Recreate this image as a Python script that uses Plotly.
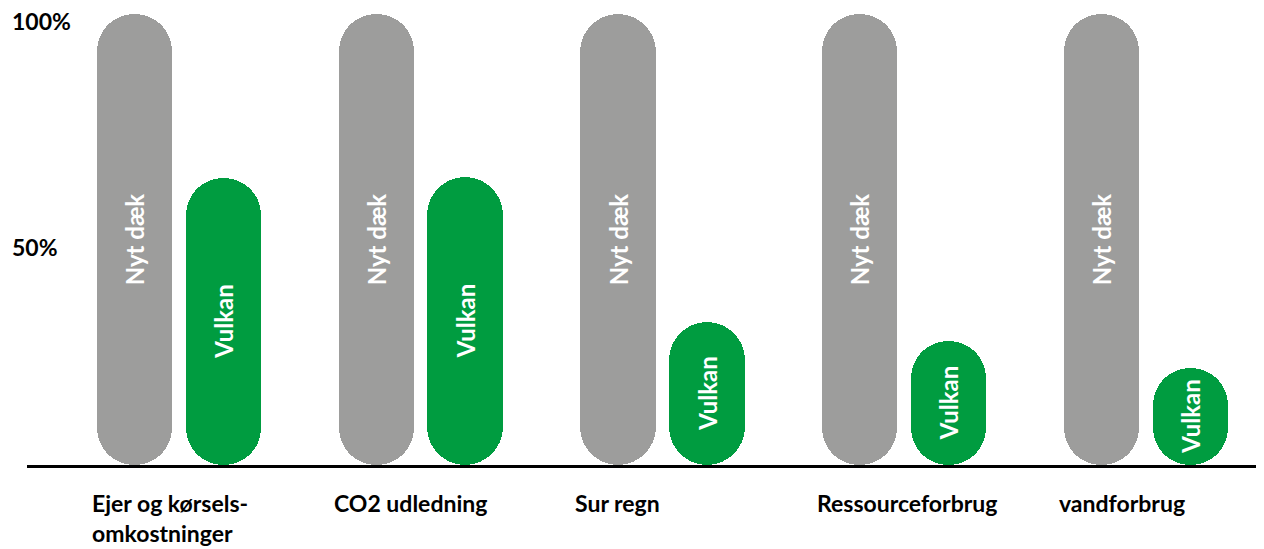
import plotly.graph_objects as go

categories = ["Ejer og kørsels-<br>omkostninger", "CO2 udledning", "Sur regn",
              "Ressourceforbrug", "vandforbrug"]
nyt_daek = [100, 100, 100, 100, 100]
vulkan = [63.7, 63.9, 31.7, 27.5, 21.5]
series_names = ["Nyt dæk", "Vulkan"]
ytick_vals = [50, 100]
ytick_text = ["50%", "100%"]

GRAY = "#9D9D9C"
GREEN = "#009C40"
FONT = "Lato"
BAR_W = 0.312
OFF = 0.184

idx = list(range(len(categories)))
x_gray = [i - OFF for i in idx]
x_green = [i + OFF for i in idx]

fig = go.Figure()


def add_pill(xs, vals, color, label):
    # explicit base -> plotly rounds both ends of the bar (pill shape)
    fig.add_trace(go.Bar(
        x=xs, y=vals, base=[0] * len(vals), width=BAR_W, name=label,
        marker=dict(color=color, line=dict(width=0), cornerradius="50%"),
        text=[label] * len(vals), textposition="inside", textangle=-90,
        insidetextanchor="middle", constraintext="none",
        textfont=dict(family=FONT, size=24, color="white", weight="bold"),
        hoverinfo="skip", showlegend=False))


add_pill(x_gray, nyt_daek, GRAY, series_names[0])
add_pill(x_green, vulkan, GREEN, series_names[1])

annotations = []
for i, c in enumerate(categories):
    annotations.append(dict(
        x=i - OFF - BAR_W / 2, xref="x", xanchor="left", xshift=-7,
        y=0, yref="paper", yanchor="top", yshift=-22,
        text=c, align="left", showarrow=False,
        font=dict(family=FONT, size=23, color="black", weight="bold")))
for v, t in zip(ytick_vals, ytick_text):
    annotations.append(dict(
        x=0, xref="paper", xanchor="left", xshift=-17,
        y=v, yref="y", yanchor="middle", yshift=-7,
        text=t, showarrow=False,
        font=dict(family=FONT, size=23, color="black", weight="bold")))

fig.update_layout(
    width=1256, height=541,
    margin=dict(l=19, r=0, t=4, b=84),
    paper_bgcolor="white", plot_bgcolor="white",
    barmode="overlay", bargap=0,
    showlegend=False,
    annotations=annotations,
    xaxis=dict(range=[-0.629, 4.489], showgrid=False, zeroline=False,
               showticklabels=False, ticks="", showline=True,
               linecolor="black", linewidth=3),
    yaxis=dict(range=[0, 100.5], showgrid=False, zeroline=False,
               showticklabels=False, ticks="", showline=False),
)

fig.write_html("out.html")
